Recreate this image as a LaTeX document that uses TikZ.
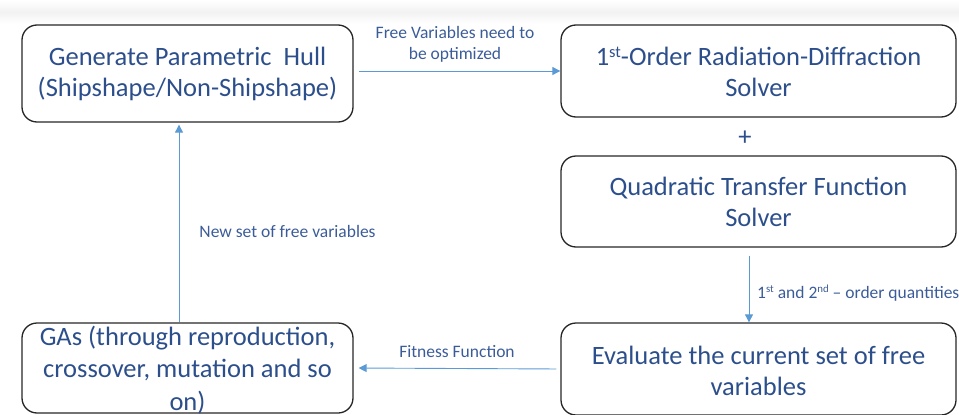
\documentclass[tikz,border=0pt]{standalone}
\usepackage{fontspec}
\setmainfont{Carlito}
\usetikzlibrary{arrows.meta,calc}
\definecolor{txtblue}{HTML}{2C4F8C}
\definecolor{lblblue}{HTML}{3B5C99}
\definecolor{arrblue}{HTML}{5B9BD5}
\newcommand{\sups}[1]{\raisebox{0.32em}{\scalebox{0.62}{#1}}}
\tikzset{
  box/.style={draw=black!85, line width=1.3pt, rounded corners=15pt, inner sep=0pt},
  boxtxt/.style={text=txtblue, font=\fontsize{26.5}{31}\selectfont, align=center, inner sep=0pt},
  lbl/.style={text=lblblue, font=\fontsize{17.5}{21}\selectfont, align=center, inner sep=0pt},
  arr/.style={draw=arrblue, line width=0.9pt, -{Triangle[length=8pt,width=8pt]}}
}
\begin{document}
\begin{tikzpicture}[x=1pt,y=-1pt]
\useasboundingbox (0,0) rectangle (959,415);
\shade[top color=white, bottom color=black!5] (0,0) rectangle (959,12);
\shade[top color=black!5, bottom color=white] (0,12) rectangle (959,24);
% boxes
\node[box, minimum width=331pt, minimum height=97pt] (gen) at (187.5,73.5) {};
\node[boxtxt] (gent) at (187.5,74) {Generate Parametric\ \ Hull\\(Shipshape/Non-Shipshape)};
\node[box, minimum width=395pt, minimum height=92pt] (rad) at (758.5,71) {};
\node[boxtxt] (radt) at (758.5,72) {1\sups{st}-Order Radiation-Diffraction\\Solver};
\node[boxtxt] (plus) at (745,138) {+};
\node[box, minimum width=395pt, minimum height=91pt] (qtf) at (758.5,201.5) {};
\node[boxtxt] (qtft) at (758.5,202) {Quadratic Transfer Function\\Solver};
\node[box, minimum width=395pt, minimum height=92pt] (eval) at (758.5,369) {};
\node[boxtxt] (evalt) at (758.5,371) {Evaluate the current set of free\\variables};
\node[box, minimum width=331pt, minimum height=90pt] (gas) at (187.5,368) {};
\node[boxtxt, font=\fontsize{26.5}{32.5}\selectfont] (gast) at (187.5,370) {GAs (through reproduction,\\crossover, mutation and so\\on)};
% connectors
\draw[arr, shorten <=5pt] (gen.east |- rad.west) -- (rad.west);
\draw[arr, shorten <=8pt] ([xshift=-9.5pt]qtf.south) -- ([xshift=-9.5pt]eval.north);
\draw[arr, shorten <=4pt, shorten >=5pt] (eval.west) -- (gas.east);
\draw[arr, shorten >=2pt] ([xshift=-8.5pt]gas.north) -- ([xshift=-8.5pt]gen.south);
% labels
\node[lbl] (l1) at (455,44) {Free Variables need to\\be optimized};
\node[lbl] (l2) at (287.5,231) {New set of free variables};
\node[lbl, anchor=west] (l3) at (757,293) {1\sups{st} and 2\sups{nd} -- order quantities};
\node[lbl] (l4) at (457,352) {Fitness Function};
\end{tikzpicture}
\end{document}
